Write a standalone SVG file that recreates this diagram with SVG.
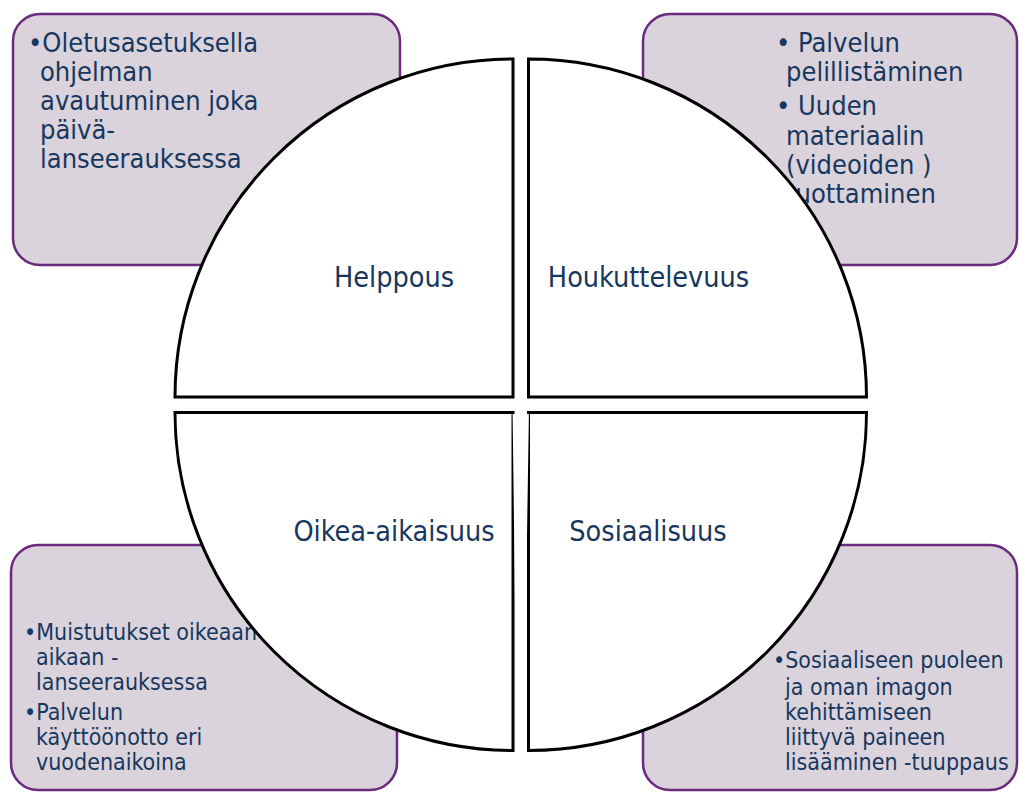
<svg xmlns="http://www.w3.org/2000/svg" width="1019" height="792" viewBox="0 0 1019 792">
  <style>
    .box { fill: #dad3dc; stroke: #6c2a7e; stroke-width: 2.5; }
    .quad { fill: #ffffff; stroke: #000000; stroke-width: 3; stroke-linejoin: miter; }
    .trim { fill: #ffffff; stroke: none; }
    text { font-family: "DejaVu Sans Condensed", "DejaVu Sans", sans-serif; font-stretch: condensed; fill: #17375e; }
    .big { font-size: 27px; }
    .small { font-size: 23px; }
    .label { font-size: 28.5px; text-anchor: middle; }
  </style>
  <rect width="1019" height="792" fill="#ffffff"/>

  <!-- corner boxes (drawn first, the circle sits on top) -->
  <g id="box-helppous">
    <rect class="box" x="13" y="14" width="387" height="251" rx="27"/>
    <text class="big"><tspan x="28" y="52">•Oletusasetuksella</tspan><tspan x="40" y="81">ohjelman</tspan><tspan x="40" y="110">avautuminen joka</tspan><tspan x="40" y="139">päivä-</tspan><tspan x="40" y="168">lanseerauksessa</tspan></text>
  </g>
  <g id="box-houkuttelevuus">
    <rect class="box" x="643" y="14" width="374" height="251" rx="27"/>
    <text class="big"><tspan x="776" y="52">• Palvelun</tspan><tspan x="786" y="81">pelillistäminen</tspan><tspan x="776" y="115">• Uuden</tspan><tspan x="786" y="145">materiaalin</tspan><tspan x="786" y="174">(videoiden )</tspan><tspan x="786" y="203">tuottaminen</tspan></text>
  </g>
  <g id="box-oikea-aikaisuus">
    <rect class="box" x="11" y="545" width="386" height="245" rx="27"/>
    <text class="small"><tspan x="24" y="640">•Muistutukset oikeaan</tspan><tspan x="36" y="665">aikaan -</tspan><tspan x="36" y="690">lanseerauksessa</tspan><tspan x="24" y="720">•Palvelun</tspan><tspan x="36" y="745">käyttöönotto eri</tspan><tspan x="36" y="770">vuodenaikoina</tspan></text>
  </g>
  <g id="box-sosiaalisuus">
    <rect class="box" x="643" y="545" width="374" height="245" rx="27"/>
    <text class="small"><tspan x="773" y="668">•Sosiaaliseen puoleen</tspan><tspan x="785" y="695">ja oman imagon</tspan><tspan x="785" y="720">kehittämiseen</tspan><tspan x="785" y="745">liittyvä paineen</tspan><tspan x="785" y="770">lisääminen -tuuppaus</tspan></text>
  </g>

  <!-- circle split into four quadrants -->
  <g id="quad-helppous">
    <path class="quad" d="M513,397 L175,397 A338,338 0 0 1 513,59 Z"/>
    <text class="label" x="394" y="287">Helppous</text>
  </g>
  <g id="quad-houkuttelevuus">
    <path class="quad" d="M528.5,397 L528.5,59 A338,338 0 0 1 866.5,397 Z"/>
    <text class="label" x="648.5" y="287">Houkuttelevuus</text>
  </g>
  <g id="quad-oikea-aikaisuus">
    <path class="quad" d="M513,412.5 L513,750.5 A338,338 0 0 1 175,412.5 Z"/>
    <text class="label" x="394" y="541">Oikea-aikaisuus</text>
  </g>
  <g id="quad-sosiaalisuus">
    <path class="quad" d="M528.5,412.5 L866.5,412.5 A338,338 0 0 1 528.5,750.5 Z"/>
    <text class="label" x="648" y="541">Sosiaalisuus</text>
  </g>

  <!-- inner edges of the lower quadrants thin out towards the centre gap -->
  <g id="centre-gap">
    <polygon class="trim" points="512.6,414 515,414 515,600"/>
    <polygon class="trim" points="526,414 528.9,414 526,600"/>
  </g>

  <g id="connectors"/>
</svg>
